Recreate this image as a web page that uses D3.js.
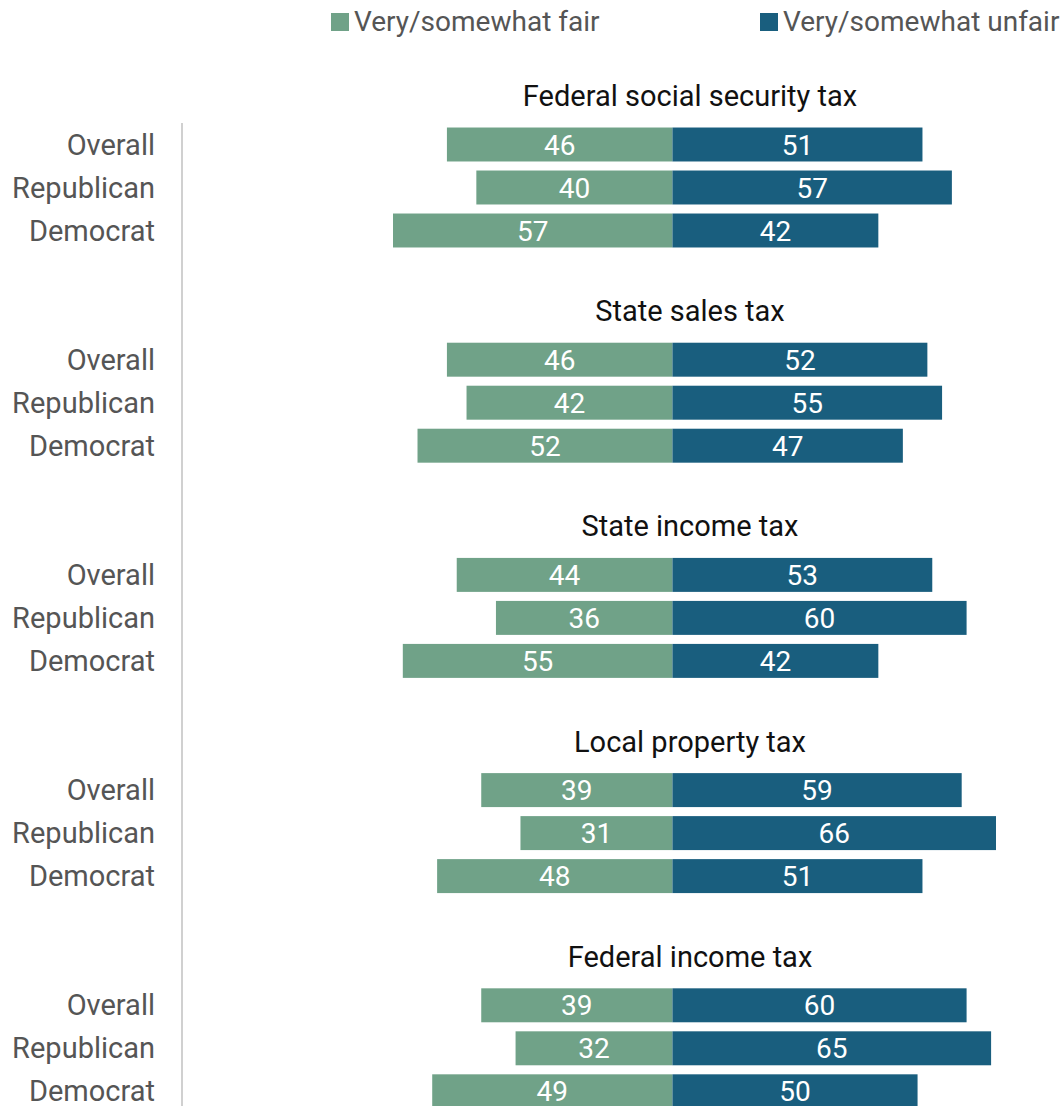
<!DOCTYPE html>
<html>
<head>
<meta charset="utf-8">
<script src="https://cdn.jsdelivr.net/npm/d3@7"></script>
<style>
  html, body { margin: 0; padding: 0; background: #fff; }
  svg { display: block; font-family: Roboto, "Noto Sans", sans-serif; }
</style>
</head>
<body>
<svg id="chart" width="1060" height="1106"></svg>
<script>
// Tax fairness by party: share saying each tax is fair vs. unfair
const taxes = [
  "Federal social security tax",
  "State sales tax",
  "State income tax",
  "Local property tax",
  "Federal income tax"
];
const groups = ["Overall", "Republican", "Democrat"];
const fairValues = [
  [46, 40, 57],
  [46, 42, 52],
  [44, 36, 55],
  [39, 31, 48],
  [39, 32, 49]
];
const unfairValues = [
  [51, 57, 42],
  [52, 55, 47],
  [53, 60, 42],
  [59, 66, 51],
  [60, 65, 50]
];
const seriesNames = ["Very/somewhat fair", "Very/somewhat unfair"];
const colors = ["#70a288", "#195e7e"];

const svg = d3.select("#chart");

// Horizontal diverging scale: 0 at the centre line
const x = d3.scaleLinear().domain([-57, 66]).range([393, 996]);

// Vertical layout: one band per tax, three rows per band
const panelY = d3.scaleBand().domain(taxes).range([82, 1158]).paddingInner(0);
const rowY = d3.scaleBand().domain(groups).range([41, 170]).paddingInner(0.21).paddingOuter(0.105);

// Legend
const legend = svg.append("g");
const legendX = [331, 760];
seriesNames.forEach((name, i) => {
  legend.append("rect")
    .attr("x", legendX[i]).attr("y", 13)
    .attr("width", 18).attr("height", 18)
    .attr("fill", colors[i]);
  legend.append("text")
    .attr("x", legendX[i] + 23).attr("y", 31)
    .attr("font-size", 28).attr("fill", "#555")
    .text(name);
});

// Separator between row labels and bars
svg.append("line")
  .attr("x1", 182).attr("x2", 182)
  .attr("y1", 123).attr("y2", 1106)
  .attr("stroke", "#d0d0d0").attr("stroke-width", 2);

taxes.forEach((tax, t) => {
  const g = svg.append("g").attr("transform", `translate(0,${panelY(tax)})`);

  g.append("text")
    .attr("x", 690).attr("y", 24)
    .attr("text-anchor", "middle")
    .attr("font-size", 29).attr("fill", "#111")
    .text(tax);

  groups.forEach((grp, r) => {
    const y0 = rowY(grp);
    const h = rowY.bandwidth();
    const fair = fairValues[t][r];
    const unfair = unfairValues[t][r];

    g.append("text")
      .attr("x", 155).attr("y", y0 + h / 2)
      .attr("dy", "0.35em")
      .attr("text-anchor", "end")
      .attr("font-size", 29).attr("fill", "#555")
      .text(grp);

    g.append("rect")
      .attr("x", x(-fair)).attr("y", y0)
      .attr("width", x(0) - x(-fair)).attr("height", h)
      .attr("fill", colors[0]);
    g.append("rect")
      .attr("x", x(0)).attr("y", y0)
      .attr("width", x(unfair) - x(0)).attr("height", h)
      .attr("fill", colors[1]);

    g.append("text")
      .attr("x", (x(-fair) + x(0)) / 2).attr("y", y0 + h / 2)
      .attr("dy", "0.36em").attr("text-anchor", "middle")
      .attr("font-size", 28).attr("fill", "#fff")
      .text(fair);
    g.append("text")
      .attr("x", (x(0) + x(unfair)) / 2).attr("y", y0 + h / 2)
      .attr("dy", "0.36em").attr("text-anchor", "middle")
      .attr("font-size", 28).attr("fill", "#fff")
      .text(unfair);
  });
});
</script>
</body>
</html>
